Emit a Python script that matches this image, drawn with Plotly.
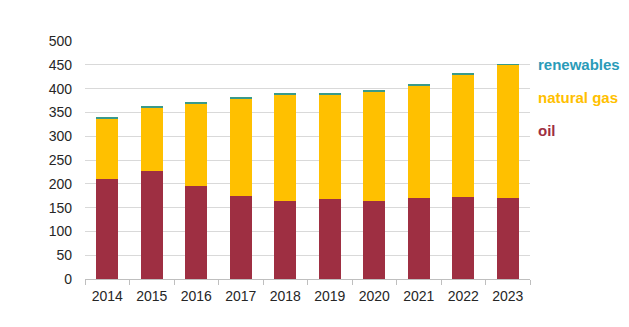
import plotly.graph_objects as go

years = ["2014", "2015", "2016", "2017", "2018", "2019", "2020", "2021", "2022", "2023"]
oil = [210, 226, 196, 174, 164, 168, 164, 170, 172, 170]
natural_gas = [128, 134, 173, 206, 224, 220, 230, 237, 258, 280]
renewables = [1.5, 1.5, 1.5, 1.5, 1.5, 1.5, 1.5, 1.5, 1.5, 1.5]

c_oil = "#9E2F42"
c_gas = "#FFC000"
c_ren = "#2A9BB8"

fig = go.Figure()
fig.add_trace(go.Bar(x=years, y=oil, name="oil", marker_color=c_oil, marker_line_width=0))
fig.add_trace(go.Bar(x=years, y=natural_gas, name="natural gas", marker_color=c_gas, marker_line_width=0))
fig.add_trace(go.Bar(x=years, y=renewables, name="renewables", marker_color="#3A9A8A", marker_line_width=0))

labels = [("renewables", 450, c_ren), ("natural gas", 382, "#FFC000"), ("oil", 313, c_oil)]
for txt, yv, col in labels:
    fig.add_annotation(x=1.013, xref="paper", y=yv, yref="y", text="<b>%s</b>" % txt,
                       showarrow=False, xanchor="left", yanchor="middle",
                       font=dict(family="Liberation Sans, Arial", size=15, color=col))

fig.update_layout(
    barmode="stack",
    bargap=0.5,
    width=629, height=327,
    margin=dict(l=85, r=99, t=41, b=48),
    paper_bgcolor="white", plot_bgcolor="white",
    showlegend=False,
    font=dict(family="Liberation Sans, Arial", size=14, color="#262626"),
)
fig.update_xaxes(showline=True, linecolor="#BFBFBF", linewidth=1,
                 ticks="outside", tickson="boundaries", ticklen=5, tickcolor="#BFBFBF",
                 showgrid=False, ticklabelstandoff=4, tickfont=dict(size=14, color="#262626"))
fig.update_yaxes(range=[0, 500], dtick=50, showgrid=True, gridcolor="#D9D9D9", gridwidth=1,
                 zeroline=False, showline=False, ticks="", ticklabelstandoff=12,
                 tickfont=dict(size=14, color="#262626"))

fig.write_html("out.html")
